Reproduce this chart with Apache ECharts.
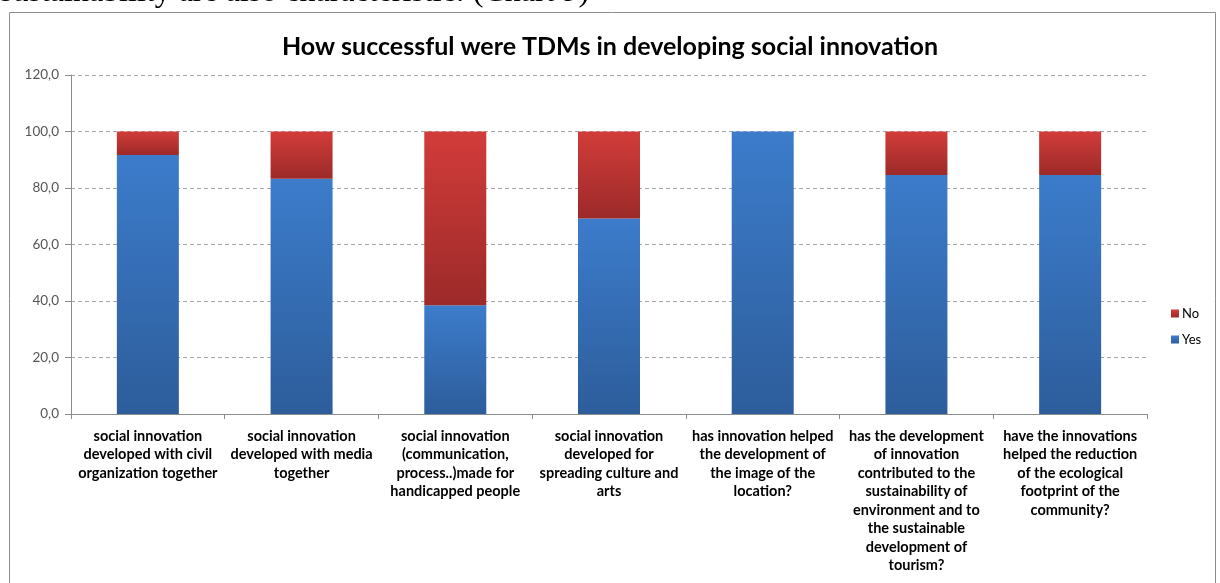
<!DOCTYPE html>
<html>
<head>
<meta charset="utf-8">
<script src="https://cdn.jsdelivr.net/npm/echarts@6/dist/echarts.min.js"></script>
<style>
  html, body { margin: 0; padding: 0; background: #fff; }
  #chart { width: 1220px; height: 583px; }
</style>
</head>
<body>
<div id="chart"></div>
<script>
const categories = [
  'social innovation\ndeveloped with civil\norganization together',
  'social innovation\ndeveloped with media\ntogether',
  'social innovation\n(communication,\nprocess..)made for\nhandicapped people',
  'social innovation\ndeveloped for\nspreading culture and\narts',
  'has innovation helped\nthe development of\nthe image of the\nlocation?',
  'has the development\nof innovation\ncontributed to the\nsustainability of\nenvironment and to\nthe sustainable\ndevelopment of\ntourism?',
  'have the innovations\nhelped the reduction\nof the ecological\nfootprint of the\ncommunity?'
];
const yesValues = [91.7, 83.3, 38.5, 69.2, 100, 84.6, 84.6];
const noValues = [8.3, 16.7, 61.5, 30.8, 0, 15.4, 15.4];

const chart = echarts.init(document.getElementById('chart'));

// office-2007 style vertical gradients
const blueFill = new echarts.graphic.LinearGradient(0, 0, 0, 1, [
  { offset: 0, color: '#3c7ccb' },
  { offset: 1, color: '#2d5d9b' }
]);
const redFill = new echarts.graphic.LinearGradient(0, 0, 0, 1, [
  { offset: 0, color: '#d23c3a' },
  { offset: 1, color: '#9c2a29' }
]);

chart.setOption({
  animation: false,
  graphic: [
    {
      type: 'text', left: 0, top: -23,
      style: { text: 'sustainability are also characteristic: (Chart 9)', font: '32px "Liberation Serif"', fill: '#000' }
    },
    {
      type: 'rect', shape: { x: 9.5, y: 12.5, width: 1206, height: 580 },
      style: { fill: 'none', stroke: '#8c8c8c', lineWidth: 1 }
    }
  ],
  title: {
    text: 'How successful were TDMs in developing social innovation',
    left: 'center', top: 29,
    textStyle: { fontFamily: 'Lato', fontWeight: 'bold', fontSize: 25, color: '#000' }
  },
  legend: {
    data: ['No', 'Yes'],
    orient: 'vertical',
    left: 1166, top: 302,
    itemWidth: 8, itemHeight: 8, itemGap: 13,
    icon: 'rect',
    textStyle: { fontFamily: 'Lato', fontSize: 13, color: '#000', padding: [0, 0, 0, -2] }
  },
  grid: { left: 71, right: 73, top: 75, bottom: 169, containLabel: false },
  xAxis: {
    type: 'category',
    data: categories,
    axisLine: { lineStyle: { color: '#8c8c8c' } },
    axisTick: { show: true, length: 5, lineStyle: { color: '#8c8c8c' } },
    axisLabel: {
      interval: 0, margin: 13, lineHeight: 18.5,
      fontFamily: 'Lato', fontWeight: 'bold', fontSize: 14.5, color: '#000', align: 'center'
    }
  },
  yAxis: {
    type: 'value', min: 0, max: 120, interval: 20,
    axisLine: { show: true, lineStyle: { color: '#8c8c8c' } },
    axisTick: { show: true, length: 6, lineStyle: { color: '#8c8c8c' } },
    axisLabel: {
      margin: 12, fontFamily: 'Lato', fontSize: 13.5, color: '#555',
      formatter: v => v.toFixed(1).replace('.', ',')
    },
    splitLine: { lineStyle: { color: '#a6a6a6', type: [4, 3] } }
  },
  series: [
    {
      name: 'Yes', type: 'bar', stack: 'total', data: yesValues,
      barWidth: 62, itemStyle: { color: blueFill }
    },
    {
      name: 'No', type: 'bar', stack: 'total', data: noValues,
      barWidth: 62, itemStyle: { color: redFill }
    }
  ]
});
</script>
</body>
</html>
